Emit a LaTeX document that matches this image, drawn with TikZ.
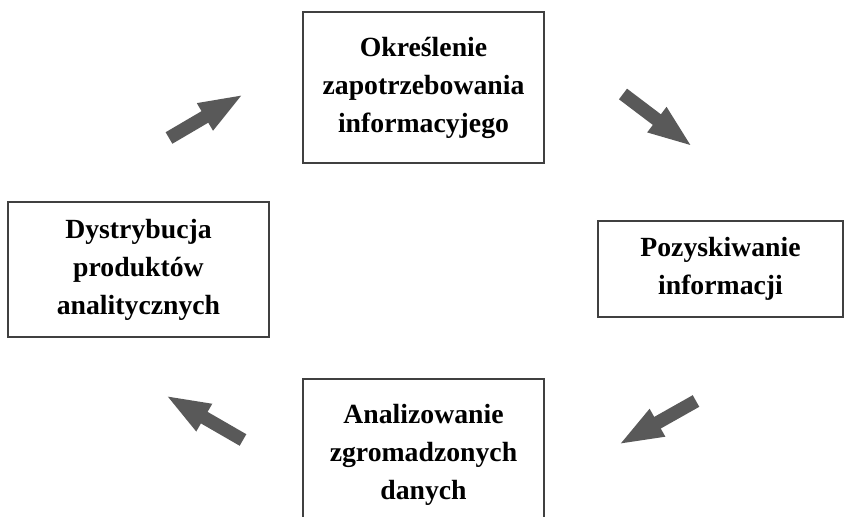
\documentclass[tikz,border=0pt]{standalone}
\usepackage{fontspec}
\setmainfont{Liberation Serif}
\usepackage{xcolor}
\definecolor{cyclegray}{HTML}{595959}
\definecolor{cycleline}{HTML}{404040}
\usepackage{tikz}
\usetikzlibrary{arrows.meta,positioning}

\tikzset{
  stagebox/.style={draw=cycleline,line width=0.9pt,align=center,inner sep=0pt,
    font=\bfseries\fontsize{20.8}{28.5}\selectfont},
  blockarrow/.style={draw=cyclegray,line width=10pt,
    -{Triangle[length=34pt,width=21pt]}}
}

\begin{document}
\begin{tikzpicture}[x=0.75pt,y=0.75pt]
\useasboundingbox (0,0) rectangle (850,517);
% four stages of the cycle
\node[stagebox,minimum width=241*0.75pt,minimum height=151*0.75pt] (need) at (423.5,429.5)
  {Określenie\\zapotrzebowania\\informacyjego};
\node[stagebox,minimum width=245*0.75pt,minimum height=96*0.75pt] (collect) at (720.5,248)
  {Pozyskiwanie\\informacji};
\node[stagebox,minimum width=241*0.75pt,minimum height=151*0.75pt] (analyse) at (423.5,62.5)
  {Analizowanie\\zgromadzonych\\danych};
\node[stagebox,minimum width=261*0.75pt,minimum height=135*0.75pt] (spread) at (138.5,247.5)
  {Dystrybucja\\produktów\\analitycznych};
% arrow ends
\coordinate (a1s) at (169,379);
\coordinate (a1e) at (244,423);
\coordinate (a2s) at (623,423);
\coordinate (a2e) at (693,370);
\coordinate (a3s) at (696,116);
\coordinate (a3e) at (618,72);
\coordinate (a4s) at (243,77);
\coordinate (a4e) at (165,122);
\draw[blockarrow] (a1s) -- (a1e);
\draw[blockarrow] (a2s) -- (a2e);
\draw[blockarrow] (a3s) -- (a3e);
\draw[blockarrow] (a4s) -- (a4e);
\end{tikzpicture}
\end{document}
